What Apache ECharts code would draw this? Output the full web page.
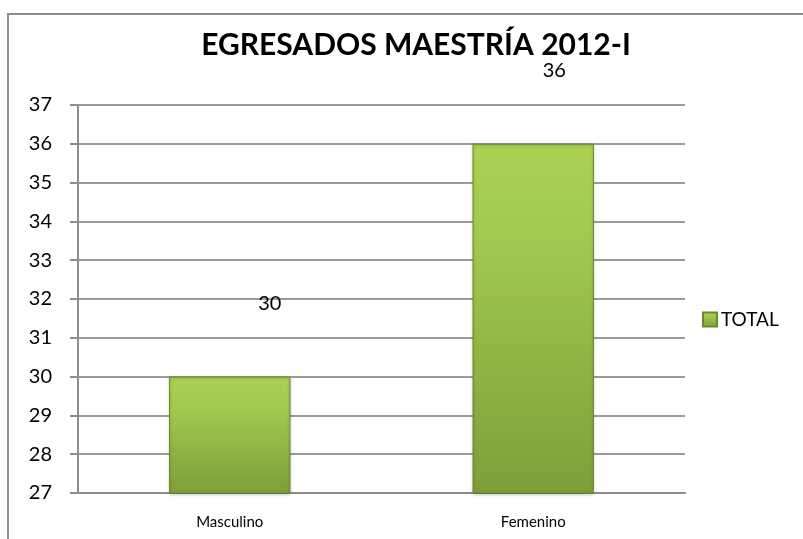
<!DOCTYPE html>
<html>
<head>
<meta charset="utf-8">
<script src="https://cdn.jsdelivr.net/npm/echarts@6/dist/echarts.min.js"></script>
<style>
  html, body { margin: 0; padding: 0; background: #fff; }
  #frame {
    position: absolute; left: 7px; top: 13px; width: 810px; height: 540px;
    border: 2px solid #8c8c8c; box-sizing: border-box;
  }
  #chart { position: absolute; left: 0; top: 0; width: 803px; height: 539px; }
</style>
</head>
<body>
<div id="frame"></div>
<div id="chart"></div>
<script>
// datos del gráfico
const categories = ['Masculino', 'Femenino'];
const totalValues = [30, 36];
const seriesName = 'TOTAL';
const yMin = 27;
const yMax = 37;

const FONT = 'Lato, "Open Sans", sans-serif';
// Excel dejó las etiquetas desplazadas a la derecha
const labelOffsets = [[40, 0], [21, 0]];

const myChart = echarts.init(document.getElementById('chart'));

const barColor = new echarts.graphic.LinearGradient(0, 0, 0, 1, [
  { offset: 0, color: '#abd255' },
  { offset: 0.3, color: '#a0c84e' },
  { offset: 1, color: '#7e9e3a' }
]);

const option = {
  animation: false,
  title: {
    text: 'EGRESADOS MAESTRÍA 2012-I',
    left: 411,
    textAlign: 'center',
    top: 25,
    textStyle: { fontFamily: FONT, fontSize: 30, fontWeight: 'bold', color: '#000' }
  },
  legend: {
    data: [seriesName],
    orient: 'vertical',
    left: 697,
    top: 305,
    itemWidth: 14,
    itemHeight: 14,
    itemGap: 5,
    icon: 'rect',
    textStyle: { fontFamily: FONT, fontSize: 19, color: '#000', padding: [0, 0, 0, -1] }
  },
  grid: { left: 78, right: 118, top: 105, bottom: 46 },
  xAxis: {
    type: 'category',
    data: categories,
    axisLine: { lineStyle: { color: '#8c8c8c', width: 2 } },
    axisTick: { show: false },
    axisLabel: { fontFamily: FONT, fontSize: 15, color: '#000', margin: 22 }
  },
  yAxis: {
    type: 'value',
    min: yMin,
    max: yMax,
    interval: 1,
    axisLine: { show: true, lineStyle: { color: '#8c8c8c', width: 2 } },
    axisTick: { show: true, length: 8, lineStyle: { color: '#8c8c8c', width: 2 } },
    axisLabel: { fontFamily: FONT, fontSize: 20, color: '#000', margin: 26 },
    splitLine: { lineStyle: { color: '#9a9a9a', width: 2 } }
  },
  series: [{
    name: seriesName,
    type: 'bar',
    barWidth: '40%',
    data: totalValues.map((v, i) => ({
      value: v,
      label: { offset: labelOffsets[i] }
    })),
    itemStyle: {
      color: barColor,
      borderColor: '#6b8a2e',
      borderWidth: 1,
      shadowColor: 'rgba(0,0,0,0.25)',
      shadowBlur: 3,
      shadowOffsetY: 1
    },
    label: {
      show: true,
      position: 'top',
      distance: 63,
      fontFamily: FONT,
      fontSize: 20,
      color: '#000'
    }
  }]
};

myChart.setOption(option);
</script>
</body>
</html>
